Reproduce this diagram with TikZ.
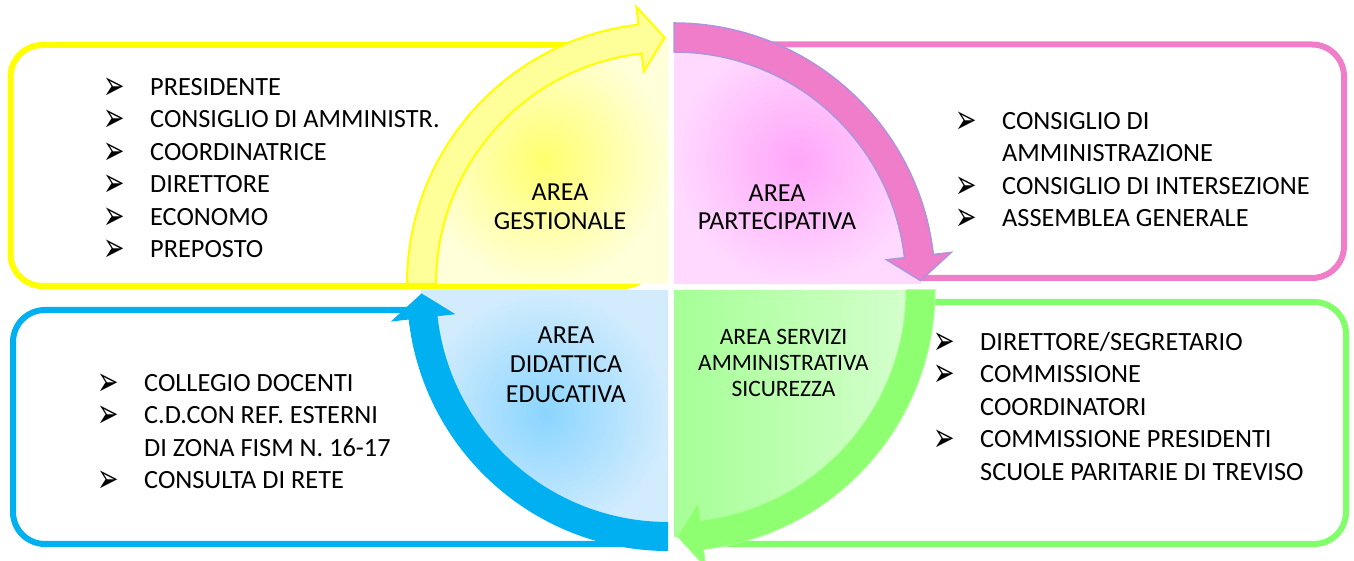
\documentclass[tikz,border=0pt]{standalone}
\usepackage{fontspec}
\usepackage{graphicx}
\setmainfont{Carlito}
\newfontfamily\simboli{DejaVu Sans}
\usetikzlibrary{positioning}
\definecolor{giallo}{HTML}{FFFF00}
\definecolor{giallochiaro}{HTML}{FFFF99}
\definecolor{rosa}{HTML}{F07DC9}
\definecolor{lilla}{HTML}{AE94DD}
\definecolor{verde}{HTML}{8EFF70}
\definecolor{verdebordo}{HTML}{80FF6A}
\definecolor{azzurro}{HTML}{00B0F0}
\newcommand{\voce}{\makebox[47pt][l]{\raisebox{-4pt}[13pt][0pt]{\scalebox{0.95}[1.5]{\simboli\fontsize{27}{27}\selectfont ➢}}}}
\tikzset{
  cornice/.style = {rounded corners = 32pt, line width = 6pt},
  spicchio/.style = {insert path = {(0, 0) -- (#1:247pt) arc [start angle = #1, end angle = #1-90, radius = 247pt] -- cycle}},
  freccia/.style = {insert path = {(#1:232pt) arc [start angle = #1, end angle = #1-83.5, radius = 232pt]
      -- (#1-83.5:214pt) -- (#1-89.2:246.5pt) -- (#1-83.5:279pt) -- (#1-83.5:261pt)
      arc [start angle = #1-83.5, end angle = #1, radius = 261pt] -- cycle}},
  elenco/.style = {anchor = base west, inner sep = 0, font = \fontsize{26.3}{32.5}\selectfont},
  area/.style = {align = center, inner sep = 0, font = \fontsize{26}{28.5}\selectfont}
}
\begin{document}
\begin{tikzpicture}[x = 1pt, y = 1pt]
  \useasboundingbox (0, 0) rectangle (1354, 561);
  % cornici
  \draw [cornice, giallo] (10.5, 275) rectangle (655, 516);
  \draw [cornice, rosa] (700, 283) rectangle (1344, 516.5);
  \draw [cornice, verdebordo] (700, 17) rectangle (1346, 259);
  \draw [cornice, azzurro] (13, 17) rectangle (655, 251);
  % quadranti
  \begin{scope}[shift = {(668, 277)}]
    \shade [inner color = {rgb,255:red,255;green,255;blue,110}, outer color = {rgb,255:red,255;green,255;blue,218}] [spicchio = 180];
    \filldraw [fill = giallochiaro, draw = giallo, line width = 2pt] [freccia = 180];
  \end{scope}
  \begin{scope}[shift = {(674, 277)}]
    \shade [inner color = {rgb,255:red,255;green,166;blue,249}, outer color = {rgb,255:red,255;green,217;blue,255}] [spicchio = 90];
    \filldraw [fill = rosa, draw = lilla, line width = 1.5pt] [freccia = 90];
  \end{scope}
  \begin{scope}[shift = {(674, 271)}]
    \shade [left color = {rgb,255:red,166;green,255;blue,150}, right color = {rgb,255:red,214;green,255;blue,207}] [spicchio = 0];
    \filldraw [fill = verde, draw = verde!80!white, line width = 1pt] [freccia = 0];
  \end{scope}
  \begin{scope}[shift = {(668, 271)}]
    \shade [inner color = {rgb,255:red,139;green,213;blue,255}, outer color = {rgb,255:red,210;green,236;blue,253}] [spicchio = -90];
    \fill [azzurro] [freccia = -90];
  \end{scope}
  % etichette delle aree
  \node [area] (gestionale) at (560, 354) {AREA\\GESTIONALE};
  \node [area] (partecipativa) at (777, 353.5) {AREA\\PARTECIPATIVA};
  \node [area, font = \fontsize{26}{29.5}\selectfont] (didattica) at (566, 196.5) {AREA\\DIDATTICA\\EDUCATIVA};
  \node [area, font = \fontsize{23.5}{26}\selectfont] (servizi) at (783.5, 198) {AREA SERVIZI\\AMMINISTRATIVA\\SICUREZZA};
  % elenchi
  \node [elenco] (listagestionale) at (103, 465.7) {\begin{tabular}[t]{@{}l@{}l@{}}
    \voce & PRESIDENTE\\
    \voce & CONSIGLIO DI AMMINISTR.\\
    \voce & COORDINATRICE\\
    \voce & DIRETTORE\\
    \voce & ECONOMO\\
    \voce & PREPOSTO
  \end{tabular}};
  \node [elenco] (listapartecipativa) at (955, 431.7) {\begin{tabular}[t]{@{}l@{}l@{}}
    \voce & CONSIGLIO DI\\
          & AMMINISTRAZIONE\\
    \voce & CONSIGLIO DI INTERSEZIONE\\
    \voce & ASSEMBLEA GENERALE
  \end{tabular}};
  \node [elenco] (listaservizi) at (933, 210.7) {\begin{tabular}[t]{@{}l@{}l@{}}
    \voce & DIRETTORE/SEGRETARIO\\
    \voce & COMMISSIONE\\
          & COORDINATORI\\
    \voce & COMMISSIONE PRESIDENTI\\
          & SCUOLE PARITARIE DI TREVISO
  \end{tabular}};
  \node [elenco] (listadidattica) at (97, 169.7) {\begin{tabular}[t]{@{}l@{}l@{}}
    \voce & COLLEGIO DOCENTI\\
    \voce & C.D.CON REF. ESTERNI\\
          & DI ZONA FISM N. 16-17\\
    \voce & CONSULTA DI RETE
  \end{tabular}};
\end{tikzpicture}
\end{document}
